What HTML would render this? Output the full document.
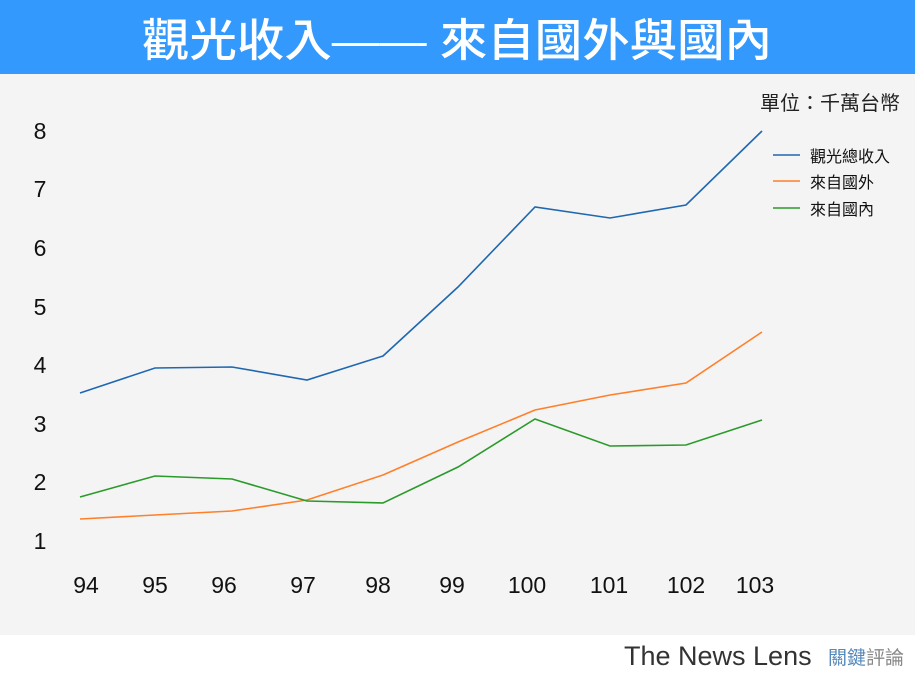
<!DOCTYPE html>
<html><head><meta charset="utf-8"><style>
body{margin:0;width:915px;height:673px;overflow:hidden;background:#fff;font-family:"Liberation Sans","Noto Sans CJK TC",sans-serif}
</style></head><body>
<svg width="915" height="673" xmlns="http://www.w3.org/2000/svg" font-family="Liberation Sans, Noto Sans CJK TC, sans-serif">
<rect x="0" y="0" width="915" height="74" fill="#3399fd"/>
<rect x="0" y="74" width="915" height="561" fill="#f4f4f4"/>
<text x="457" y="56" fill="#fff" font-size="45" font-weight="500" text-anchor="middle" textLength="630" lengthAdjust="spacingAndGlyphs">觀光收入—— 來自國外與國內</text>
<text x="900" y="110" fill="#222" font-size="20" text-anchor="end">單位：千萬台幣</text>
<g font-size="23" fill="#111" text-anchor="middle">
<text x="40" y="139">8</text><text x="40" y="197">7</text><text x="40" y="256">6</text><text x="40" y="315">5</text><text x="40" y="373">4</text><text x="40" y="432">3</text><text x="40" y="490">2</text><text x="40" y="549">1</text>
<text x="86" y="593">94</text><text x="155" y="593">95</text><text x="224" y="593">96</text><text x="303" y="593">97</text><text x="378" y="593">98</text><text x="452" y="593">99</text><text x="527" y="593">100</text><text x="609" y="593">101</text><text x="686" y="593">102</text><text x="755" y="593">103</text>
</g>
<g fill="none" stroke-width="1.6">
<polyline stroke="#1f67b0" points="80,393 155,368 232,367 307,380 383,356 458,287 535,207 610,218 686,205 762,131"/>
<polyline stroke="#ff7f2a" points="80,519 155,515 232,511 307,500 383,475 458,442 535,410 610,395 686,383 762,332"/>
<polyline stroke="#2a9a2a" points="80,497 155,476 232,479 307,501 383,503 458,467 535,419 610,446 686,445 762,420"/>
<line x1="773" y1="155" x2="800" y2="155" stroke="#1f67b0"/>
<line x1="773" y1="181" x2="800" y2="181" stroke="#ff7f2a"/>
<line x1="773" y1="208" x2="800" y2="208" stroke="#2a9a2a"/>
</g>
<g font-size="16" fill="#111">
<text x="810" y="162">觀光總收入</text><text x="810" y="188">來自國外</text><text x="810" y="215">來自國內</text>
</g>
<text x="624" y="665" font-size="27" fill="#333">The News Lens</text>
<text x="828" y="664" font-size="19" fill="#5588bb">關鍵</text>
<text x="866" y="664" font-size="19" fill="#888">評論</text>
</svg>
</body></html>
